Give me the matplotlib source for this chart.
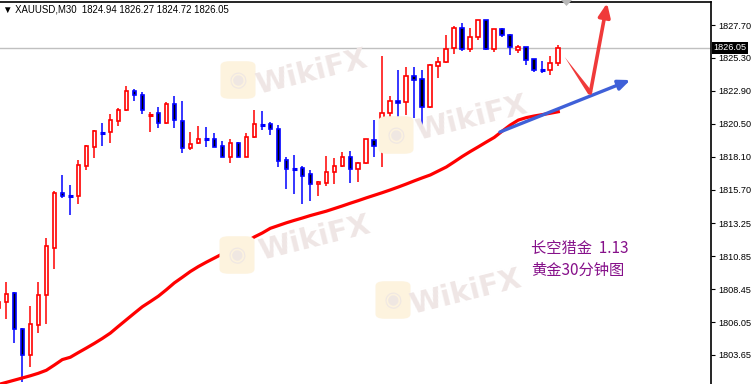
import matplotlib
matplotlib.use("Agg")
import matplotlib.pyplot as plt
from matplotlib.patches import FancyBboxPatch, Polygon

# XAUUSD M30 candles (open, high, low, close)
opens = [1807.07, 1807.48, 1808.14, 1805.54, 1803.62, 1805.81, 1808.00, 1811.42, 1815.43, 1815.23,
         1815.21, 1817.40, 1818.78, 1819.88, 1819.88, 1820.68, 1821.48, 1822.87, 1822.58, 1821.12,
         1821.26, 1820.53, 1821.92, 1820.68, 1818.71, 1819.08, 1819.44, 1819.37, 1818.86, 1818.08,
         1819.08, 1818.08, 1819.51, 1820.48, 1820.46, 1820.10, 1817.84, 1817.25, 1817.25, 1816.82,
         1816.09, 1816.20, 1817.01, 1817.40, 1818.06, 1817.18, 1817.62, 1819.29, 1818.86, 1821.26,
         1822.16, 1822.06, 1823.96, 1823.74, 1821.70, 1824.69, 1824.98, 1826.05, 1827.46, 1825.97,
         1826.80, 1828.04, 1825.97, 1827.39, 1826.95, 1825.86, 1826.07, 1825.20, 1824.47, 1824.40,
         1824.94]
highs = [1807.80, 1808.99, 1808.24, 1805.63, 1807.22, 1808.96, 1812.17, 1815.60, 1816.76, 1816.04,
         1817.86, 1818.95, 1820.02, 1820.56, 1821.23, 1821.65, 1823.27, 1823.03, 1822.79, 1821.36,
         1821.72, 1822.09, 1822.55, 1822.16, 1819.90, 1820.34, 1820.26, 1819.83, 1819.24, 1819.37,
         1819.17, 1819.80, 1821.50, 1821.43, 1820.63, 1820.41, 1818.08, 1818.22, 1817.42, 1817.11,
         1816.33, 1818.15, 1818.00, 1818.42, 1818.51, 1817.71, 1819.40, 1820.77, 1825.44, 1822.52,
         1824.42, 1824.64, 1824.64, 1824.42, 1824.86, 1825.37, 1826.99, 1827.63, 1827.85, 1827.48,
         1828.04, 1828.06, 1827.39, 1827.48, 1827.02, 1826.26, 1826.10, 1825.22, 1825.05, 1825.42,
         1826.27]
lows = [1806.78, 1806.25, 1804.50, 1801.70, 1802.75, 1805.27, 1805.92, 1809.93, 1815.11, 1813.87,
        1814.67, 1817.15, 1818.03, 1818.90, 1819.12, 1820.32, 1821.40, 1822.18, 1821.23, 1819.90,
        1820.21, 1820.50, 1820.21, 1818.39, 1818.61, 1819.05, 1818.83, 1818.78, 1818.06, 1817.66,
        1818.06, 1818.06, 1819.48, 1820.05, 1819.68, 1817.35, 1815.77, 1815.36, 1814.63, 1814.87,
        1815.26, 1815.98, 1816.13, 1817.38, 1816.20, 1816.28, 1817.60, 1818.08, 1817.37, 1819.19,
        1820.90, 1821.14, 1820.90, 1820.10, 1821.65, 1823.86, 1824.95, 1825.56, 1825.83, 1825.75,
        1826.58, 1825.90, 1825.75, 1826.80, 1825.51, 1825.64, 1824.81, 1824.30, 1824.18, 1824.08,
        1824.72]
closes = [1807.51, 1808.07, 1805.52, 1803.62, 1805.88, 1808.00, 1811.57, 1815.43, 1815.21, 1815.18,
          1817.47, 1818.86, 1819.95, 1819.80, 1820.75, 1821.48, 1822.87, 1822.58, 1821.48, 1821.21,
          1820.53, 1821.94, 1820.75, 1818.71, 1819.00, 1819.41, 1819.37, 1818.80, 1818.08, 1819.08,
          1818.08, 1819.51, 1820.48, 1820.39, 1820.10, 1817.81, 1817.18, 1817.15, 1816.71, 1816.09,
          1816.25, 1816.96, 1817.42, 1818.06, 1817.18, 1817.64, 1819.37, 1818.90, 1821.26, 1822.14,
          1822.01, 1823.96, 1823.71, 1821.70, 1824.76, 1825.00, 1825.97, 1827.46, 1825.93, 1826.80,
          1828.04, 1825.97, 1827.39, 1826.95, 1826.07, 1826.07, 1825.17, 1824.44, 1824.40, 1824.91,
          1826.05]

# moving average (red line)
ma = [1801.49, 1801.65, 1801.81, 1801.97, 1802.13, 1802.31, 1802.53, 1802.91, 1803.31, 1803.48,
      1803.82, 1804.15, 1804.49, 1804.85, 1805.24, 1805.73, 1806.21, 1806.69, 1807.16, 1807.54,
      1807.93, 1808.40, 1808.90, 1809.31, 1809.73, 1810.09, 1810.41, 1810.71, 1811.01, 1811.31,
      1811.60, 1811.90, 1812.25, 1812.54, 1812.88, 1813.08, 1813.28, 1813.46, 1813.63, 1813.81,
      1813.97, 1814.13, 1814.32, 1814.51, 1814.71, 1814.90, 1815.10, 1815.29, 1815.48, 1815.68,
      1815.89, 1816.11, 1816.34, 1816.56, 1816.77, 1817.06, 1817.35, 1817.73, 1818.12, 1818.48,
      1818.82, 1819.17, 1819.51, 1819.97, 1820.41, 1820.77, 1820.95, 1821.07, 1821.17, 1821.27,
      1821.38]

ytick_vals = [1827.70, 1825.30, 1822.90, 1820.50, 1818.10, 1815.70, 1813.25, 1810.85, 1808.45, 1806.05, 1803.65]
last_price = 1826.05
title = "\u25bc XAUUSD,M30  1824.94 1826.27 1824.72 1826.05"
note_lines = ["长空猎金  1.13", "黄金30分钟图"]

# hand-drawn arrows, (bar index, price)
blue_arrow = [(62.7, 1819.90), (79.0, 1823.69)]
red_arrow = [(70.8, 1825.37), (74.0, 1822.74), (76.1, 1829.30)]

W, H = 751, 384
fig = plt.figure(figsize=(W / 100, H / 100), dpi=100)
fig.patch.set_facecolor("white")
small = ["Liberation Sans", "DejaVu Sans"]


def px(x, y):
    # figure fraction from pixel position (top-left origin)
    return x / W, 1 - y / H


# watermarks
for lx, ly, tx, ty in [(238, 80, 312, 72), (396, 135, 472, 118), (237, 255, 315, 238), (393, 300, 466, 292)]:
    fx, fy = px(lx - 16, ly + 18)
    fig.patches.append(FancyBboxPatch((fx, fy), 32 / W, 36 / H, boxstyle="round,pad=0.002,rounding_size=0.012",
                                      transform=fig.transFigure, facecolor="#fdf3de", edgecolor="none",
                                      zorder=0))
    fig.text(*px(lx, ly), "◉", color="#efe7e3", fontsize=15, ha="center", va="center", rotation=10, zorder=0)
    fig.text(*px(tx, ty), "WikiFX", color="#efe6e5", fontsize=21, fontweight="bold",
             ha="center", va="center", rotation=14, zorder=0)

ax = fig.add_axes([0, 0, 711 / W, 382 / H])
ax.patch.set_alpha(0)

xs = list(range(len(opens)))
for i in xs:
    o, h, l, c = opens[i], highs[i], lows[i], closes[i]
    bull = c >= o
    col = "#ff0000" if bull else "#0000ff"
    ax.vlines(i, l, h, color=col, lw=1.1, zorder=2)
    lo, hi = min(o, c), max(o, c)
    if hi - lo < 0.12:
        ax.hlines((o + c) / 2, i - 0.3, i + 0.3, color=col, lw=2.2, zorder=3)
    else:
        ax.bar(i, hi - lo, bottom=lo, width=0.45, facecolor="white" if bull else "black",
               edgecolor=col, linewidth=1.2, zorder=3)

ax.plot(xs, ma, color="#ff0000", lw=2.3, zorder=4)

# current price line
ax.axhline(last_price, color="#c0c0c0", lw=1.0, zorder=1)

# arrows
ax.annotate("", xy=blue_arrow[1], xytext=blue_arrow[0],
            arrowprops=dict(arrowstyle="-|>,head_length=0.7,head_width=0.3", color="#3f60d8", lw=2.4,
                            shrinkA=0, shrinkB=0), zorder=5)
ax.annotate("", xy=red_arrow[0], xytext=red_arrow[1],
            arrowprops=dict(arrowstyle="wedge,tail_width=0.35", color="#f03a3a", lw=0,
                            shrinkA=0, shrinkB=0), zorder=5)
ax.annotate("", xy=red_arrow[2], xytext=red_arrow[1],
            arrowprops=dict(arrowstyle="-|>,head_length=0.8,head_width=0.35", color="#f03a3a", lw=2.6,
                            shrinkA=0, shrinkB=0), zorder=5)

ax.set_xlim(0.21, 89.09)
ax.set_ylim(1801.53, 1829.38)

for s in ["left", "bottom"]:
    ax.spines[s].set_visible(False)
ax.spines["top"].set_linewidth(1.2)
ax.spines["right"].set_linewidth(1.2)
ax.set_xticks([])
ax.yaxis.tick_right()
ax.set_yticks(ytick_vals)
ax.set_yticklabels([f"{v:.2f}" for v in ytick_vals], family=small)
ax.tick_params(axis="y", direction="out", length=3, width=0.8, pad=2, labelsize=6.6)

ax.annotate(f"{last_price:.2f}", xy=(1.0, last_price), xycoords=("axes fraction", "data"),
            xytext=(2, 0), textcoords="offset points", ha="left", va="center", fontsize=6.6,
            family=small, color="white",
            bbox=dict(boxstyle="square,pad=0.15", facecolor="black", edgecolor="none"),
            annotation_clip=False, zorder=6)

# shift marker at top
fig.patches.append(Polygon([px(561, 0), px(572, 0), px(566.5, 6)], closed=True,
                           transform=fig.transFigure, facecolor="#b8b8b8", edgecolor="none"))

fig.text(*px(3, 9), title, fontsize=6.9, ha="left", va="center", color="black", family=small)

for k, line in enumerate(note_lines):
    fig.text(*px(531, 248 + 22 * k), line, fontsize=11, color="#86108a", ha="left", va="center",
             family=["Noto Sans CJK SC", "DejaVu Sans"])

fig.savefig("out.png", dpi=100)
